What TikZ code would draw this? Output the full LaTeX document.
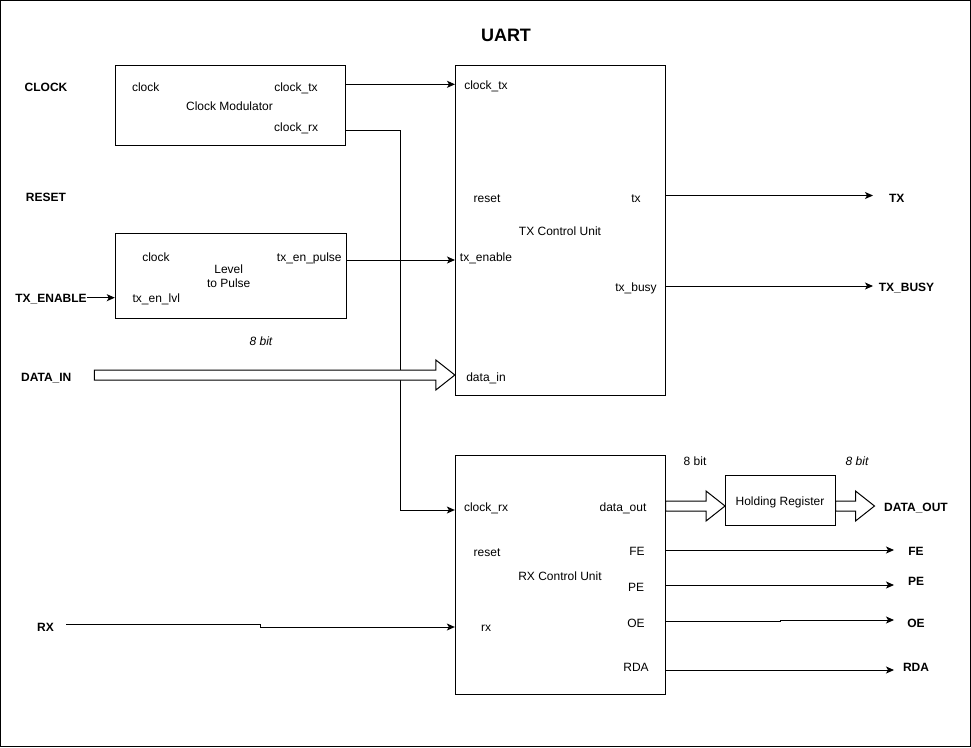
\documentclass[tikz,border=0pt]{standalone}
\usepackage{fontspec}
\setmainfont{Liberation Sans}
\usetikzlibrary{calc}
\usetikzlibrary{arrows.meta}
\tikzset{
  box/.style={draw, line width=1pt, inner sep=0pt},
  lbl/.style={inner sep=0pt, font=\fontsize{12}{14.5}\selectfont, text height=8.6pt, text depth=0pt},
  pin/.style={lbl, font=\bfseries\fontsize{12}{14.5}\selectfont},
  sig/.style={line width=1pt, -{Stealth[length=8pt,width=7pt,inset=2pt]}},
  bus/.style={draw, line width=1pt, fill=white}
}
\newcommand{\busarrow}[2]{\draw[bus] let \p1=(#1), \p2=(#2) in (\x1,\y1+5pt) -- (\x2-19pt,\y1+5pt) -- (\x2-19pt,\y1+15pt) -- (\x2,\y1) -- (\x2-19pt,\y1-15pt) -- (\x2-19pt,\y1-5pt) -- (\x1,\y1-5pt) -- cycle;}
\begin{document}
\begin{tikzpicture}[x=1pt,y=-1pt]
    \useasboundingbox (0,0) rectangle (971,747);
    \draw[line width=1pt] (0.5,0.5) rectangle (970.5,746.5);
    \node[lbl, font=\bfseries\fontsize{18}{22}\selectfont, text height=13pt] (title) at (506,35) {UART};

    % inputs
    \node[pin] (pin_clk) at (46,87) {CLOCK};
    \node[pin] (pin_rst) at (46,197) {RESET};
    \node[pin] (pin_en) at (51,297.7) {TX\_ENABLE};
    \node[pin] (pin_din) at (46.3,377) {DATA\_IN};
    \node[pin] (pin_rx) at (45.5,627) {RX};

    % clock modulator
    \node[box, minimum width=230, minimum height=80] (clkmod) at (230.3,105.3) {};
    \node[lbl] (cm_clk) at (145.7,87) {clock};
    \node[lbl] (cm_tx) at (296,87) {clock\_tx};
    \node[lbl] (cm_name) at (229.5,105.7) {Clock Modulator};
    \node[lbl] (cm_rx) at (296.2,126.7) {clock\_rx};

    % level to pulse
    \node[box, minimum width=231.4, minimum height=85] (lvlpulse) at (231,275.8) {};
    \node[lbl] (lp_clk) at (156,256.7) {clock};
    \node[lbl] (lp_pulse) at (309.3,256.7) {tx\_en\_pulse};
    \node[inner sep=0pt, font=\fontsize{12}{14.6}\selectfont, align=center, anchor=base] (lp_name) at (228.7,287.6) {Level\\to Pulse};
    \node[lbl] (lp_lvl) at (156.3,297.7) {tx\_en\_lvl};

    % tx control unit
    \node[box, minimum width=209.7, minimum height=329.7] (txcu) at (560.2,230.2) {};
    \node[lbl] (tx_clk) at (486,85) {clock\_tx};
    \node[lbl] (tx_rst) at (487,198) {reset};
    \node[lbl] (tx_tx) at (636,198) {tx};
    \node[lbl] (tx_name) at (560,231) {TX Control Unit};
    \node[lbl] (tx_en) at (486,257) {tx\_enable};
    \node[lbl] (tx_busy) at (636,287) {tx\_busy};
    \node[lbl] (tx_din) at (486,377) {data\_in};

    % rx control unit
    \node[box, minimum width=209.7, minimum height=239.3] (rxcu) at (560.2,575.3) {};
    \node[lbl] (rx_clk) at (486,507) {clock\_rx};
    \node[lbl] (rx_dout) at (623,507) {data\_out};
    \node[lbl] (rx_rst) at (487,552) {reset};
    \node[lbl] (rx_fe) at (637,551) {FE};
    \node[lbl] (rx_name) at (560,576) {RX Control Unit};
    \node[lbl] (rx_pe) at (636,587) {PE};
    \node[lbl] (rx_rx) at (486,627) {rx};
    \node[lbl] (rx_oe) at (636,622.7) {OE};
    \node[lbl] (rx_rda) at (636,667) {RDA};

    % holding register
    \node[box, minimum width=109.5, minimum height=50] (holdreg) at (780.3,500.2) {};
    \node[lbl] (hr_name) at (780,501) {Holding Register};

    % bus widths
    \node[lbl, font=\itshape\fontsize{12}{14.5}\selectfont] (w_din) at (261,341) {8 bit};
    \node[lbl] (w_dout) at (695,461) {8 bit};
    \node[lbl, font=\itshape\fontsize{12}{14.5}\selectfont] (w_hr) at (857,461) {8 bit};

    % outputs
    \node[pin] (pin_tx) at (896.7,198) {TX};
    \node[pin] (pin_busy) at (906.5,287) {TX\_BUSY};
    \node[pin] (pin_dout) at (916,507) {DATA\_OUT};
    \node[pin] (pin_fe) at (916,551) {FE};
    \node[pin] (pin_pe) at (916,581) {PE};
    \node[pin] (pin_oe) at (916,622.7) {OE};
    \node[pin] (pin_rda) at (916,667) {RDA};

    % connector ends
    \coordinate (clkpin) at (455,84.3);
    \coordinate (rxclk) at (400,130);
    \coordinate (enpin) at (455,260);
    \coordinate (rxbus) at (400,510);
    \coordinate (rxin) at (66,624.5);
    \coordinate (rxjog) at (260,624.5);
    \coordinate (dinstart) at (94.3,375);
    \coordinate (doutend) at (874.5,506);
    \coordinate (txend) at (873,195.5);
    \coordinate (busyend) at (873,286);
    \coordinate (feend) at (894,550);
    \coordinate (peend) at (894,585);
    \coordinate (oejog) at (780.4,621.7);
    \coordinate (oeend) at (894,620);
    \coordinate (rdaend) at (894,670);

    % wires
    \draw[sig] (clkmod.east |- clkpin) -- (clkpin);
    \draw[sig] (clkmod.east |- rxclk) -- (rxclk) -- (rxbus) -- (rxcu.west |- rxbus);
    \draw[sig] (lvlpulse.east |- enpin) -- (enpin);
    \draw[sig] (pin_en.east) -- (lvlpulse.west |- pin_en);
    \draw[sig] (rxin) -- (rxjog) |- (rxcu.west |- rx_rx);
    \draw[sig] (txcu.east |- txend) -- (txend);
    \draw[sig] (txcu.east |- busyend) -- (busyend);
    \draw[sig] (rxcu.east |- feend) -- (feend);
    \draw[sig] (rxcu.east |- peend) -- (peend);
    \draw[sig] (rxcu.east |- oejog) -- (oejog) |- (oeend);
    \draw[sig] (rxcu.east |- rdaend) -- (rdaend);

    % buses
    \busarrow{dinstart}{txcu.west |- dinstart}
    \busarrow{rxcu.east |- doutend}{holdreg.west |- doutend}
    \busarrow{holdreg.east |- doutend}{doutend}
\end{tikzpicture}
\end{document}
